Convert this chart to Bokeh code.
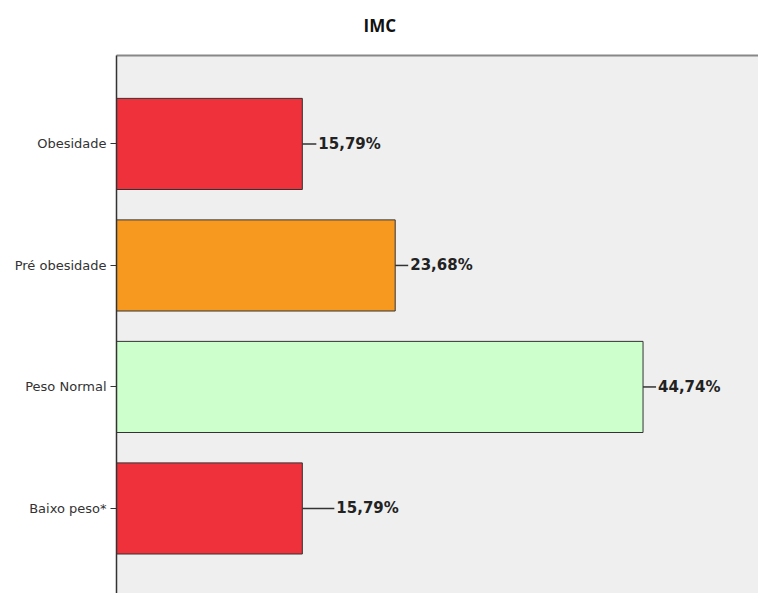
from bokeh.plotting import figure
from bokeh.models import Range1d, FixedTicker, LinearAxis
from bokeh.core.properties import value
from bokeh.embed import file_html
from bokeh.resources import INLINE

categories = ["Obesidade", "Pré obesidade", "Peso Normal", "Baixo peso*"]
percents = [15.79, 23.68, 44.74, 15.79]
bar_colors = ["#ef313b", "#f7991f", "#ccffcc", "#ef313b"]
positions = [4, 3, 2, 1]
connector_px = [14, 13, 13, 32]

W, H = 758, 593
LEFT, TOP = 116, 55
X_END = 54.55
frame_w = W - LEFT
px_per_unit = frame_w / X_END

p = figure(width=W, height=H, output_backend="svg", toolbar_location=None,
           x_range=Range1d(0, X_END), y_range=Range1d(0.30, 4.728),
           min_border_left=LEFT, min_border_top=TOP, min_border_right=0,
           min_border_bottom=0, background_fill_color="#efefef",
           border_fill_color="white")
p.title.text = "IMC"
p.title.align = "left"
p.title.offset = 247
p.title.standoff = 21
p.title.vertical_align = "top"
p.title.text_line_height = 1.0
p.title.text_font = "Open Sans"
p.title.text_font_style = "bold"
p.title.text_font_size = "17px"
p.title.text_color = "#111111"

p.outline_line_color = None
p.xgrid.visible = False
p.ygrid.visible = False
p.xaxis.visible = False

top_axis = LinearAxis(axis_line_color="#888888", axis_line_width=2,
                      major_tick_line_color=None, minor_tick_line_color=None,
                      major_label_text_color=None, major_label_text_font_size="1px")
p.add_layout(top_axis, "above")

yax = p.yaxis[0]
yax.ticker = FixedTicker(ticks=positions)
yax.major_label_overrides = {pos: c for pos, c in zip(positions, categories)}
yax.axis_line_color = "#333333"
yax.axis_line_width = 1.5
yax.major_tick_out = 6
yax.major_tick_in = 0
yax.major_tick_line_color = "#333333"
yax.minor_tick_line_color = None
yax.major_label_standoff = 4
yax.major_label_text_font = "DejaVu Sans"
yax.major_label_text_font_size = "13px"
yax.major_label_text_color = "#333333"

p.hbar(y=positions, left=0, right=percents, height=0.75,
       fill_color=bar_colors, line_color="#333333", line_width=1)

ends = [v + c / px_per_unit for v, c in zip(percents, connector_px)]
p.segment(x0=percents, y0=positions, x1=ends, y1=positions,
          line_color="#333333", line_width=1.5)

labels = [f"{v:.2f}%".replace(".", ",") for v in percents]
p.text(x=ends, y=positions, text=labels, x_offset=2,
       text_baseline="middle", text_align="left",
       text_font=value("DejaVu Sans"), text_font_style="bold",
       text_font_size="15px", text_color="#222222")

open("out.html", "w").write(file_html(p, INLINE))
